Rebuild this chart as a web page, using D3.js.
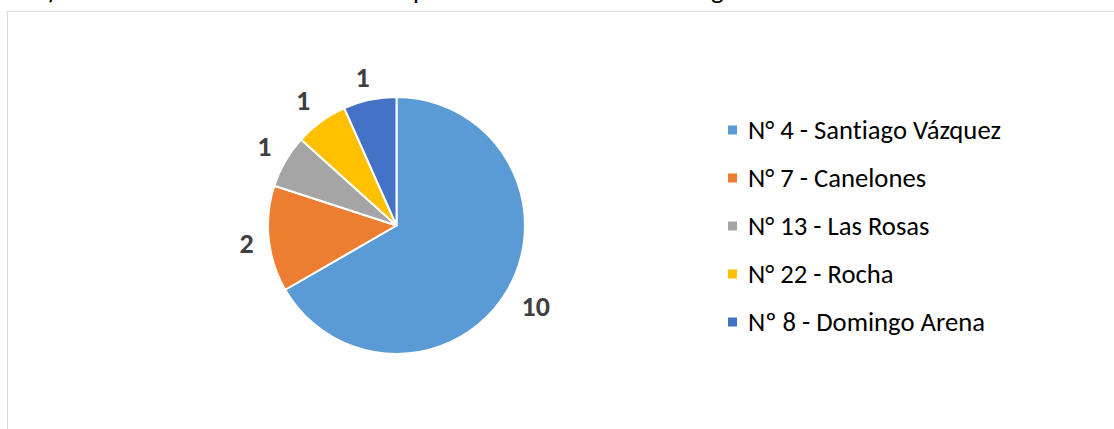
<!DOCTYPE html>
<html><head><meta charset="utf-8">
<script src="https://cdn.jsdelivr.net/npm/d3@7"></script>
<style>body{margin:0;background:#fff}svg{display:block}text{font-variant-ligatures:none}</style>
</head><body>
<svg id="c" width="1114" height="429"></svg>
<script>
const categories = ["N° 4 - Santiago Vázquez","N° 7 - Canelones","N° 13 - Las Rosas","N° 22 - Rocha","Nº 8 - Domingo Arena"];
const values = [10,2,1,1,1];
const colors = ["#5B9BD5","#ED7D31","#A5A5A5","#FFC000","#4472C4"];

const svg = d3.select("#c");
const font = "Carlito, Calibri, Lato, sans-serif";

// cropped title fragments above the chart frame (only descenders visible)
const frag = svg.append("g").attr("font-family", font).attr("font-size", 24).attr("fill", "#000");
frag.append("text").attr("x", 34).attr("y", -1).text("b)");
frag.append("text").attr("x", 413).attr("y", -1).text("p");
frag.append("text").attr("x", 711).attr("y", -1).text("g");

// chart frame
svg.append("rect").attr("x", 7.5).attr("y", 11.5).attr("width", 1200).attr("height", 500)
  .attr("fill", "#fff").attr("stroke", "#D9D9D9").attr("stroke-width", 1);

const cx = 396.5, cy = 225.5, r = 128.5;
const pie = d3.pie().sort(null).value(d => d)(values);
const arc = d3.arc().innerRadius(0).outerRadius(r);
const g = svg.append("g").attr("transform", `translate(${cx},${cy})`);
g.selectAll("path").data(pie).join("path")
  .attr("d", arc).attr("fill", (d,i) => colors[i])
  .attr("stroke", "#fff").attr("stroke-width", 2).attr("stroke-linejoin", "round");

// labels outside end
const clamp = v => Math.max(-1, Math.min(1, v));
g.selectAll("text.lbl").data(pie).join("text").attr("class","lbl")
  .attr("font-family", font).attr("font-weight", "bold").attr("font-size", 28)
  .attr("fill", "#404040").attr("text-anchor", "middle").attr("dominant-baseline", "central")
  .text(d => d.data)
  .each(function(d){
    const a = (d.startAngle + d.endAngle) / 2;
    const s = Math.sin(a), c = -Math.cos(a);
    const hw = this.getComputedTextLength() / 2 + 5, hh = 14, gap = 10;
    const x = (r + gap) * s + hw * clamp(s * 2);
    const y = (r + gap) * c + hh * clamp(c * 1.5);
    d3.select(this).attr("x", x).attr("y", y + 1);
  });

// legend
const lg = svg.append("g");
const rows = lg.selectAll("g").data(categories).join("g")
  .attr("transform", (d,i) => `translate(728,${130 + i*48})`);
rows.append("rect").attr("x", 0).attr("y", -4.5).attr("width", 9).attr("height", 9)
  .attr("fill", (d,i) => colors[i]);
const txt = rows.append("text").attr("x", 20).attr("y", 0)
  .attr("font-family", font).attr("font-size", 22).attr("fill", "#000")
  .attr("dominant-baseline", "central").text(d => d);
const w0 = txt.node().getComputedTextLength();
const fs = 22 * 253 / w0;
txt.attr("font-size", fs);
frag.attr("font-size", fs);
</script>
</body></html>
